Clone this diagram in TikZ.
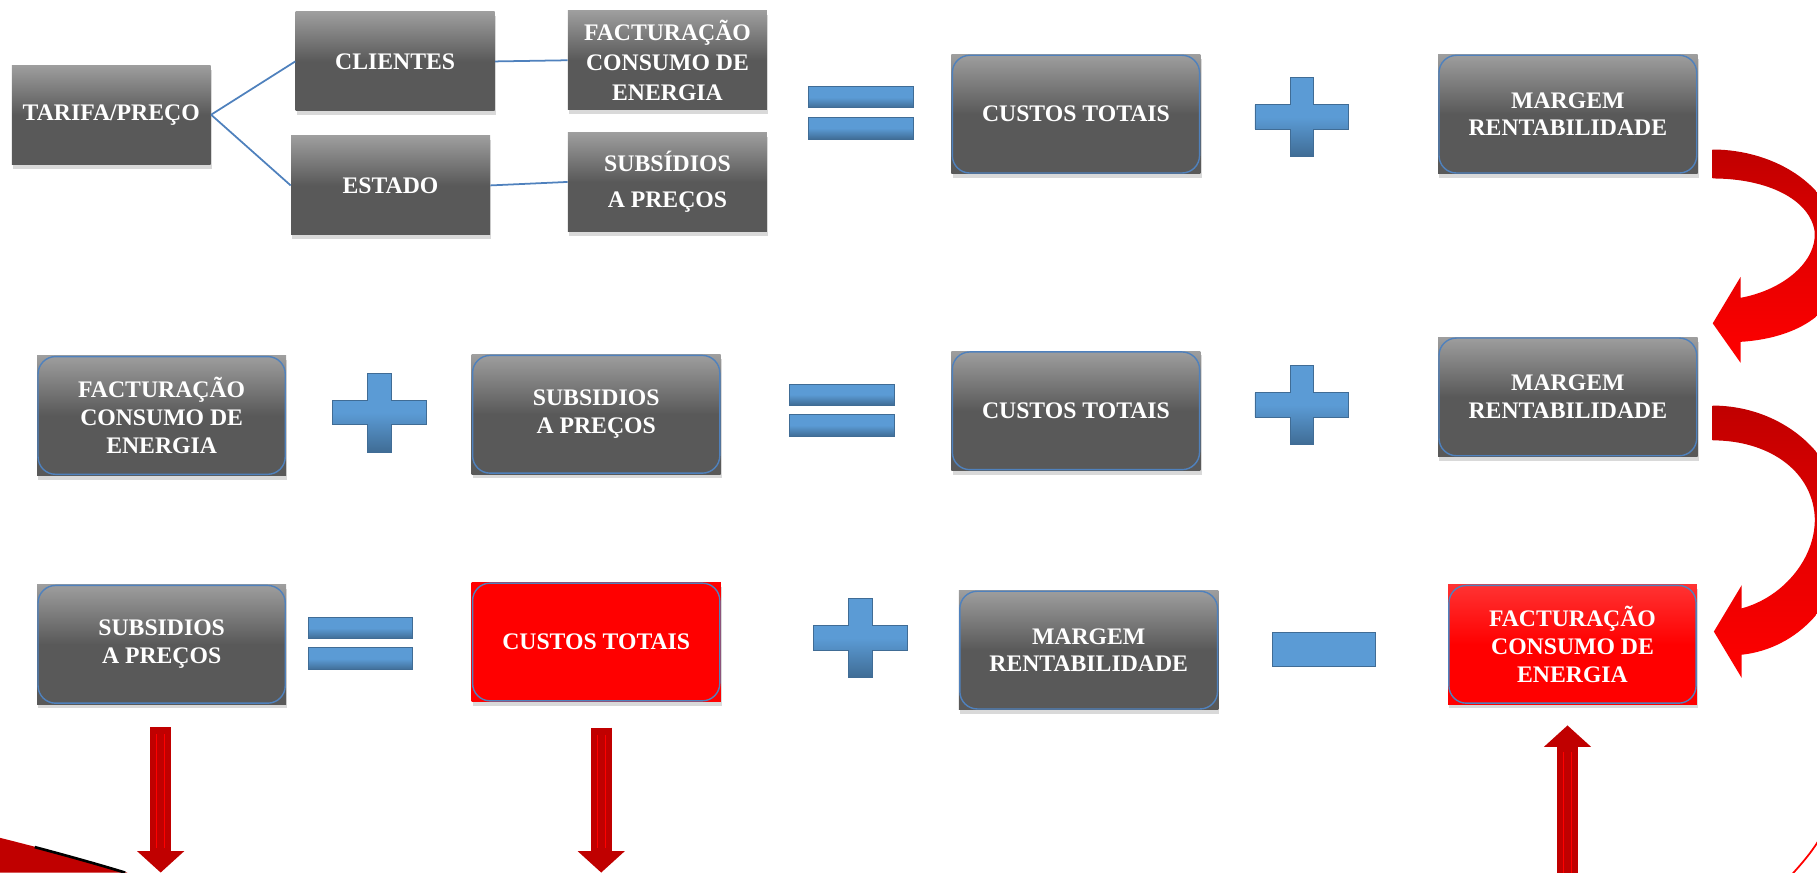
\documentclass[tikz,border=0pt]{standalone}
\usepackage{fontspec}
\newfontfamily\boxfont{Liberation Serif}
\usepackage{tikz}
\usetikzlibrary{arrows.meta}
\usetikzlibrary{shadows}

\definecolor{boxgray}{RGB}{89,89,89}
\definecolor{edgeblue}{RGB}{79,129,189}
\definecolor{symblue}{RGB}{91,155,213}
\definecolor{arrowred}{RGB}{192,0,0}

\tikzset{
  gbox/.style={rectangle, top color=black!38, bottom color=boxgray, middle color=boxgray,
    text=white, font=\boxfont\bfseries\fontsize{13.5}{15.8}\selectfont, align=center, inner sep=0pt,
    drop shadow={opacity=0.3, shadow xshift=0.6pt, shadow yshift=-2.5pt}},
  smallbox/.style={gbox, minimum width=3.98cm, minimum height=1.98cm},
  rimbox/.style={gbox, minimum width=4.98cm, minimum height=2.39cm,
    path picture={\draw[edgeblue, line width=0.8pt, rounded corners=0.35cm]
      ([shift={(0.5pt,0.5pt)}]path picture bounding box.south west) rectangle
      ([shift={(-0.5pt,-0.5pt)}]path picture bounding box.north east);}},
  widebox/.style={minimum width=5.19cm},
  redbox/.style={top color=red!80!white, bottom color=red, middle color=red},
  link/.style={draw=edgeblue, line width=1pt},
  symb/.style={top color=symblue, bottom color=symblue!70!black, middle color=symblue,
    draw=symblue!70!black, line width=0.5pt},
  redarrow/.style={draw=arrowred, line width=0.42cm, -{Triangle[width=0.92cm,length=0.43cm]}},
  redinner/.style={draw=red, line width=0.6pt, double=arrowred, double distance=4pt},
  bendarrow/.style={top color=arrowred, bottom color=red, middle color=red!90!black},
  plussign/.pic={
    \path[symb] (-10,-34) -- (10,-34) -- (10,-10.5) -- (40.5,-10.5) -- (40.5,10.5) -- (10,10.5)
      -- (10,34) -- (-10,34) -- (-10,10.5) -- (-40.5,10.5) -- (-40.5,-10.5) -- (-10,-10.5) -- cycle;},
  equalsign/.pic={
    \path[symb] (-45,-22.5) rectangle (45,-4.5);
    \path[symb] (-45,3.5) rectangle (45,22.5);}
}

\begin{document}
\begin{tikzpicture}[x=0.02318cm, y=-0.02318cm]
  \useasboundingbox (0,0) rectangle (1568,753);
  \coordinate (base) at (0,753);

  % first row
  \node[smallbox] (tarifa) at (96,99) {TARIFA/PREÇO};
  \node[smallbox] (clientes) at (341,53) {CLIENTES};
  \node[smallbox] (estado) at (337,160) {ESTADO};
  \node[smallbox, font=\boxfont\bfseries\fontsize{13.5}{17}\selectfont] (fact1) at (576,52) {FACTURAÇÃO\\CONSUMO DE\\ENERGIA};
  \node[smallbox] (subs1) at (576,157) {SUBSÍDIOS\\[5pt]A PREÇOS};
  \path [link] (tarifa.east) edge (clientes.west);
  \path [link] (tarifa.east) edge (estado.west);
  \path [link] (clientes.east) edge (fact1.west);
  \path [link] (estado.east) edge (subs1.west);
  \pic at (743,97.5) {equalsign};
  \node[rimbox] (custos1) at (928.5,98.5) {CUSTOS TOTAIS};
  \pic at (1123.5,101) {plussign};
  \node[rimbox, widebox] (margem1) at (1353,98.5) {MARGEM\\RENTABILIDADE};

  % second row
  \node[rimbox] (fact2) at (139.5,358.5) {FACTURAÇÃO\\CONSUMO DE\\ENERGIA};
  \pic at (327.5,356) {plussign};
  \node[rimbox] (subs2) at (514.5,357.5) {SUBSIDIOS\\A PREÇOS};
  \pic at (726.5,354) {equalsign};
  \node[rimbox] (custos2) at (928.5,354.5) {CUSTOS TOTAIS};
  \pic at (1123.5,349.5) {plussign};
  \node[rimbox, widebox] (margem2) at (1353,342.5) {MARGEM\\RENTABILIDADE};

  % third row
  \node[rimbox] (subs3) at (139.5,556) {SUBSIDIOS\\A PREÇOS};
  \pic at (311,555.5) {equalsign};
  \node[rimbox, fill=red, top color=red, bottom color=red, middle color=red] (custos3) at (514.5,554) {CUSTOS TOTAIS};
  \pic at (742.5,550.5) {plussign};
  \node[rimbox, widebox] (margem3) at (939.5,561) {MARGEM\\RENTABILIDADE};
  \path[fill=symblue, draw=symblue!70!black, line width=0.5pt] (1098,546) rectangle (1187,575);
  \node[rimbox, redbox] (fact3) at (1357,556) {FACTURAÇÃO\\CONSUMO DE\\ENERGIA};

  % bent arrows on the right
  \path[bendarrow] (1478,129) .. controls (1530,129) and (1590,160) .. (1590,225)
    .. controls (1590,270) and (1550,292) .. (1502,295) -- (1502,313) -- (1478,279)
    -- (1502,239) -- (1502,257) .. controls (1540,250) and (1568,225) .. (1566,200)
    .. controls (1562,172) and (1525,154) .. (1478,154) -- cycle;
  \path[bendarrow] (1478,350) .. controls (1535,350) and (1592,390) .. (1592,460)
    .. controls (1592,520) and (1550,560) .. (1503,565) -- (1503,585) -- (1479,545)
    -- (1503,505) -- (1503,525) .. controls (1540,515) and (1568,480) .. (1566,445)
    .. controls (1563,405) and (1525,380) .. (1478,380) -- cycle;

  % straight arrows
  \draw[redarrow] ([xshift=-0.02cm, yshift=-0.46cm]subs3.south) -- ([xshift=-0.02cm]subs3.south |- base);
  \draw[redinner] ([xshift=-0.02cm, yshift=-0.6cm]subs3.south) -- ([xshift=-0.02cm, yshift=0.5cm]subs3.south |- base);
  \draw[redarrow] ([xshift=0.1cm, yshift=-0.51cm]custos3.south) -- ([xshift=0.1cm]custos3.south |- base);
  \draw[redinner] ([xshift=0.1cm, yshift=-0.65cm]custos3.south) -- ([xshift=0.1cm, yshift=0.5cm]custos3.south |- base);
  \draw[redarrow] ([xshift=-0.1cm]fact3.south |- base) -- ([xshift=-0.1cm, yshift=-0.42cm]fact3.south);
  \draw[redinner] ([xshift=-0.1cm, yshift=-0.1cm]fact3.south |- base) -- ([xshift=-0.1cm, yshift=-0.95cm]fact3.south);

  % corner pieces
  \fill[arrowred] (0,723) .. controls (40,733) and (80,744) .. (110,753) -- (0,753) -- cycle;
  \draw[black, line width=1.5pt] (30,731) .. controls (60,739) and (85,746) .. (108,753);
  \draw[red, line width=1pt] (1546,755) .. controls (1555,745) and (1562,737) .. (1569,726);
\end{tikzpicture}
\end{document}
